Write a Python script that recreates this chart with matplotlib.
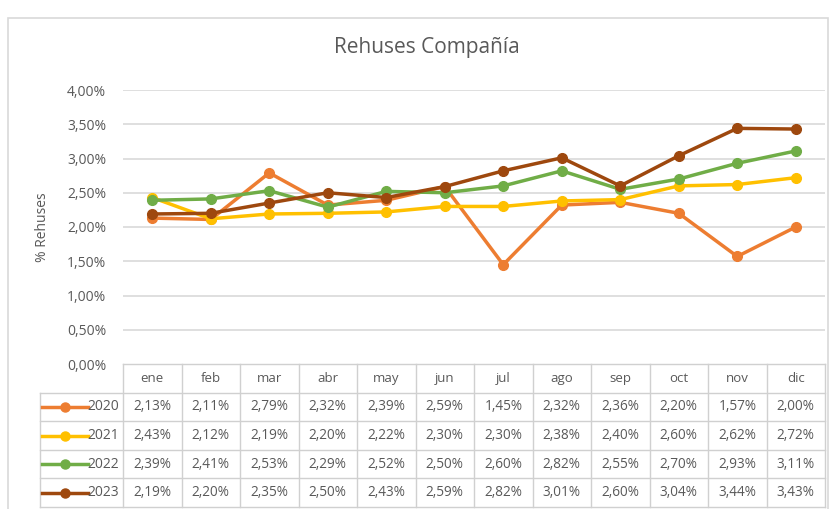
import matplotlib
matplotlib.use("Agg")
import matplotlib.pyplot as plt
from matplotlib.patches import Rectangle
import matplotlib.font_manager as fm

names = {f.name for f in fm.fontManager.ttflist}
fam = [f for f in ["Open Sans", "DejaVu Sans"] if f in names]
plt.rcParams['font.family'] = fam

months = ["ene", "feb", "mar", "abr", "may", "jun", "jul", "ago", "sep", "oct", "nov", "dic"]
years = ["2020", "2021", "2022", "2023"]
v2020 = [2.13, 2.11, 2.79, 2.32, 2.39, 2.59, 1.45, 2.32, 2.36, 2.20, 1.57, 2.00]
v2021 = [2.43, 2.12, 2.19, 2.20, 2.22, 2.30, 2.30, 2.38, 2.40, 2.60, 2.62, 2.72]
v2022 = [2.39, 2.41, 2.53, 2.29, 2.52, 2.50, 2.60, 2.82, 2.55, 2.70, 2.93, 3.11]
v2023 = [2.19, 2.20, 2.35, 2.50, 2.43, 2.59, 2.82, 3.01, 2.60, 3.04, 3.44, 3.43]
series = [v2020, v2021, v2022, v2023]
colors = ["#ED7D31", "#FFC000", "#70AD47", "#9E480E"]
yticks = [0, 0.5, 1.0, 1.5, 2.0, 2.5, 3.0, 3.5, 4.0]

W, H = 830, 509
fig = plt.figure(figsize=(W / 100, H / 100), dpi=100)
txt = "#595959"
grid = "#D9D9D9"

def px_axes(x0, y0, x1, y1):
    return fig.add_axes([x0 / W, 1 - y1 / H, (x1 - x0) / W, (y1 - y0) / H])

# outer chart border (bottom edge runs off the image)
fig.patches.append(Rectangle((8 / W, 1 - 520 / H), 820 / W, 502 / H, transform=fig.transFigure,
                             fill=False, edgecolor=grid, linewidth=1.2))

L, R, T, B = 123, 825, 90, 364
ax = px_axes(L, T, R, B)
x = list(range(len(months)))
for vals, c in zip(series, colors):
    ax.plot(x, vals, color=c, lw=2.5, marker="o", ms=7, zorder=3)
ax.set_xlim(-0.5, 11.5)
ax.set_ylim(0, 4)
ax.set_yticks(yticks)
ax.set_yticklabels([("%.2f%%" % t).replace(".", ",") for t in yticks], color=txt, fontsize=10)
ax.set_xticks([])
for t in yticks[1:]:
    ax.axhline(t, color=grid, lw=1.2, zorder=1)
for s in ax.spines.values():
    s.set_visible(False)
ax.tick_params(axis="y", length=0, pad=12)
ax.set_ylabel("% Rehuses", color=txt, fontsize=10)
ax.yaxis.set_label_coords(-0.104, 0.5)

fig.text(427 / W, 1 - 48 / H, "Rehuses Compañía", ha="center", va="center", fontsize=15, color=txt)

# data table
tL, tT, tB = 40, 364, 507
unit = (R - L) / 12.0
xmin = -0.5 - (L - tL) / unit
tax = px_axes(tL, tT, R, tB)
tax.set_xlim(xmin, 11.5)
tax.set_ylim(5, 0)
tax.axis("off")
lc = "#D0D0D0"
tax.plot([-0.5, 11.5], [0, 0], color=lc, lw=1, clip_on=False)
for k in range(13):
    tax.plot([-0.5 + k, -0.5 + k], [0, 5], color=lc, lw=1, clip_on=False)
for r in range(1, 6):
    tax.plot([xmin, 11.5], [r, r], color=lc, lw=1, clip_on=False)
tax.plot([xmin, xmin], [1, 5], color=lc, lw=1, clip_on=False)
for i, m in enumerate(months):
    tax.text(i, 0.5, m, ha="center", va="center", fontsize=9.5, color=txt)
kx0 = xmin + 0.03
kx1 = -0.5 - 33 / unit - 0.04
for r, (yr, vals, c) in enumerate(zip(years, series, colors), start=1):
    tax.plot([kx0, kx1], [r + 0.5, r + 0.5], color=c, lw=2.5, clip_on=False)
    tax.plot([(kx0 + kx1) / 2], [r + 0.5], color=c, marker="o", ms=6.5, clip_on=False)
    tax.text(-0.56, r + 0.5, yr, ha="right", va="center", fontsize=10, color=txt)
    for i, v in enumerate(vals):
        tax.text(i, r + 0.5, ("%.2f%%" % v).replace(".", ","), ha="center", va="center",
                 fontsize=9.8, color=txt)

fig.savefig("out.png", dpi=100)
